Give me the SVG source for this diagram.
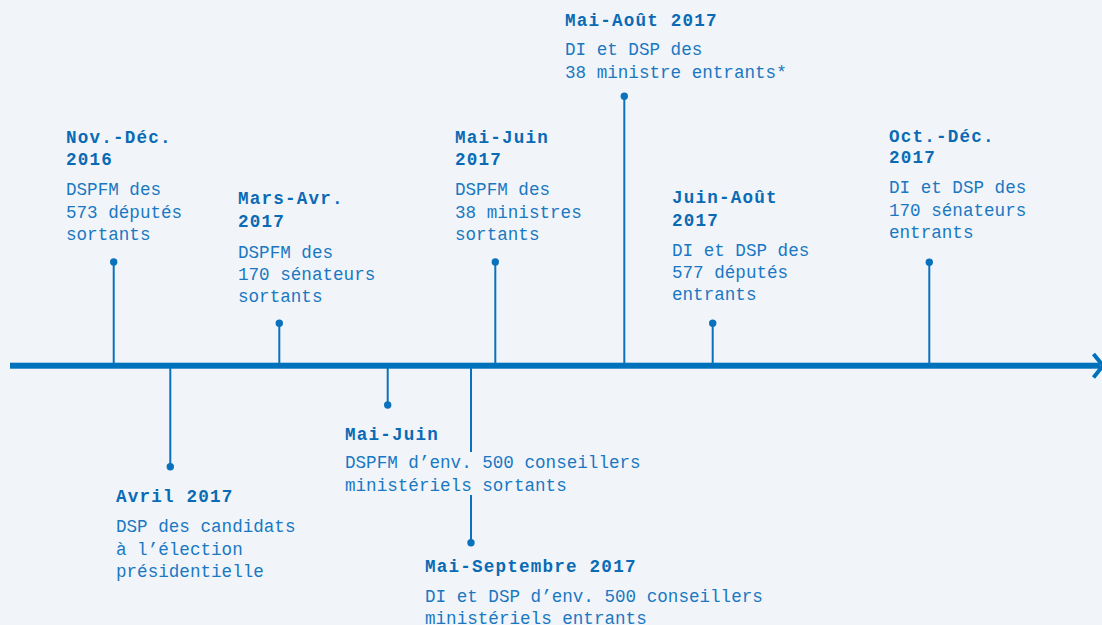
<svg xmlns="http://www.w3.org/2000/svg" width="1102" height="625" viewBox="0 0 1102 625">
<style>
.h{font-family:"Liberation Mono","DejaVu Sans Mono",monospace;font-weight:bold;font-size:17.6px;letter-spacing:1.2px;fill:#0a6bb4}
.b{font-family:"Liberation Mono","DejaVu Sans Mono",monospace;font-size:17.6px;fill:#1a78c2}
.t{stroke:#0a72bc;stroke-width:2;fill:none}
.d{fill:#0a72bc}
</style>
<rect width="1102" height="625" fill="#f1f5fa"/>
<g id="connectors">
<line class="t" x1="113.7" y1="262" x2="113.7" y2="363"/>
<line class="t" x1="170.3" y1="368" x2="170.3" y2="466.7"/>
<line class="t" x1="279.3" y1="323.3" x2="279.3" y2="363"/>
<line class="t" x1="387.7" y1="368" x2="387.7" y2="405"/>
<line class="t" x1="471" y1="368" x2="471" y2="452"/>
<line class="t" x1="471" y1="495" x2="471" y2="542.7"/>
<line class="t" x1="495.3" y1="262" x2="495.3" y2="363"/>
<line class="t" x1="624.3" y1="96.3" x2="624.3" y2="363"/>
<line class="t" x1="712.7" y1="323.3" x2="712.7" y2="363"/>
<line class="t" x1="929.3" y1="262.3" x2="929.3" y2="363"/>
<circle class="d" cx="113.7" cy="262" r="3.7"/>
<circle class="d" cx="170.3" cy="466.7" r="3.7"/>
<circle class="d" cx="279.3" cy="323.3" r="3.7"/>
<circle class="d" cx="387.7" cy="405" r="3.7"/>
<circle class="d" cx="471" cy="542.7" r="3.7"/>
<circle class="d" cx="495.3" cy="262" r="3.7"/>
<circle class="d" cx="624.3" cy="96.3" r="3.7"/>
<circle class="d" cx="712.7" cy="323.3" r="3.7"/>
<circle class="d" cx="929.3" cy="262.3" r="3.7"/>
<rect x="10" y="362.7" width="1090" height="6" fill="#0072bc"/>
<polyline points="1093.5,354 1103,365.7 1093.5,377.4" fill="none" stroke="#0072bc" stroke-width="4"/>
</g>
<g id="n1">
<text class="h" x="66" y="143">Nov.-Déc.</text>
<text class="h" x="66" y="165">2016</text>
<text class="b" x="66" y="195">DSPFM des</text>
<text class="b" x="66" y="217.5">573 députés</text>
<text class="b" x="66" y="240">sortants</text>
</g>
<g id="n2">
<text class="h" x="116" y="502">Avril 2017</text>
<text class="b" x="116" y="532">DSP des candidats</text>
<text class="b" x="116" y="554.5">à l’élection</text>
<text class="b" x="116" y="577">présidentielle</text>
</g>
<g id="n3">
<text class="h" x="238" y="204.3">Mars-Avr.</text>
<text class="h" x="238" y="227">2017</text>
<text class="b" x="238" y="257.7">DSPFM des</text>
<text class="b" x="238" y="280">170 sénateurs</text>
<text class="b" x="238" y="302.3">sortants</text>
</g>
<g id="n4">
<text class="h" x="345" y="439.5">Mai-Juin</text>
<text class="b" x="345" y="468.3">DSPFM d’env. 500 conseillers</text>
<text class="b" x="345" y="490.5">ministériels sortants</text>
</g>
<g id="n5">
<text class="h" x="425" y="571.7">Mai-Septembre 2017</text>
<text class="b" x="425" y="601.7">DI et DSP d’env. 500 conseillers</text>
<text class="b" x="425" y="624">ministériels entrants</text>
</g>
<g id="n6">
<text class="h" x="455" y="143">Mai-Juin</text>
<text class="h" x="455" y="165">2017</text>
<text class="b" x="455" y="195">DSPFM des</text>
<text class="b" x="455" y="217.5">38 ministres</text>
<text class="b" x="455" y="240">sortants</text>
</g>
<g id="n7">
<text class="h" x="565" y="26">Mai-Août 2017</text>
<text class="b" x="565" y="55">DI et DSP des</text>
<text class="b" x="565" y="78.3">38 ministre entrants*</text>
</g>
<g id="n8">
<text class="h" x="672" y="203.3">Juin-Août</text>
<text class="h" x="672" y="225.5">2017</text>
<text class="b" x="672" y="255.7">DI et DSP des</text>
<text class="b" x="672" y="278">577 députés</text>
<text class="b" x="672" y="300.3">entrants</text>
</g>
<g id="n9">
<text class="h" x="889" y="141.7">Oct.-Déc.</text>
<text class="h" x="889" y="163.3">2017</text>
<text class="b" x="889" y="193.3">DI et DSP des</text>
<text class="b" x="889" y="215.7">170 sénateurs</text>
<text class="b" x="889" y="237.7">entrants</text>
</g>
</svg>
